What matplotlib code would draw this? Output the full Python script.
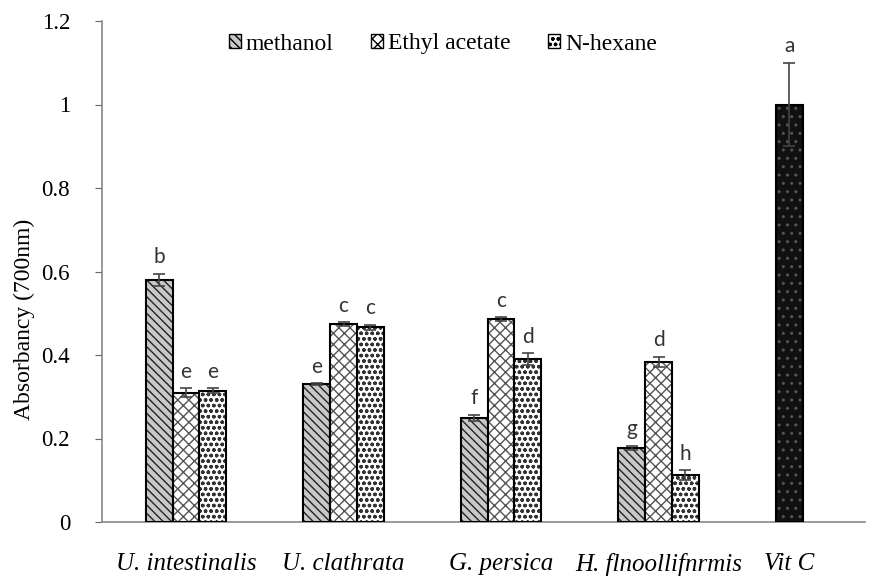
import matplotlib
matplotlib.use("Agg")
import matplotlib.pyplot as plt
from matplotlib.patches import Patch
import numpy as np

categories = ["U. intestinalis", "U. clathrata", "G. persica", "H. flnoollifnrmis", "Vit C"]
series = ["methanol", "Ethyl acetate", "N-hexane"]
methanol = [0.58, 0.33, 0.25, 0.178]
methanol_err = [0.015, 0.003, 0.007, 0.005]
ethyl = [0.31, 0.474, 0.486, 0.384]
ethyl_err = [0.01, 0.005, 0.005, 0.012]
hexane = [0.314, 0.466, 0.39, 0.112]
hexane_err = [0.006, 0.007, 0.015, 0.012]
vitc = 1.0
vitc_err = 0.1
letters_m = ["b", "e", "f", "g"]
letters_e = ["e", "c", "c", "d"]
letters_h = ["e", "c", "d", "h"]
letter_v = "a"

plt.rcParams['hatch.linewidth'] = 1.0
fig = plt.figure(figsize=(8.83, 5.76), dpi=100)
ax = fig.add_axes([102/883, 54/576, 763/883, 501/576])

pos = np.array([0, 1, 2, 3, 3.83])
w = 0.17
styles = [
    dict(face="#c8c8c8", hatch="\\\\\\\\", hc="#222222"),
    dict(face="white", hatch="xxx", hc="#555555"),
    dict(face="white", hatch="ooo", hc="#333333"),
]

def draw(x, vals, errs, st, lets):
    plt.rcParams['hatch.color'] = st["hc"]
    ax.bar(x, vals, w, color=st["face"], edgecolor=st["hc"], hatch=st["hatch"], linewidth=0, zorder=2)
    ax.bar(x, vals, w, fill=False, edgecolor="black", linewidth=1.5, zorder=3)
    ax.errorbar(x, vals, yerr=errs, fmt="none", ecolor="#444444", capsize=4, elinewidth=1.2, capthick=1.2, zorder=4)
    for xi, v, e, l in zip(x, vals, errs, lets):
        ax.text(xi, v + e + 0.015, l, ha="center", va="bottom", fontsize=15, color="#333333", family="Lato")

g = pos[:4]
draw(g - w, methanol, methanol_err, styles[0], letters_m)
draw(g, ethyl, ethyl_err, styles[1], letters_e)
draw(g + w, hexane, hexane_err, styles[2], letters_h)
draw(pos[4:5], [vitc], [vitc_err], dict(face="#111111", hatch="..", hc="#555555"), [letter_v])

ax.set_ylim(0, 1.2)
ax.set_xlim(-0.533, 4.31)
ax.set_yticks([0, 0.2, 0.4, 0.6, 0.8, 1.0, 1.2])
ax.set_yticklabels(["0", "0.2", "0.4", "0.6", "0.8", "1", "1.2"], family="Liberation Serif", fontsize=16.5)
ax.set_xticks(pos)
ax.set_xticklabels(categories, family="Liberation Serif", style="italic", fontsize=18)
ax.tick_params(axis="x", length=0, pad=22)
ax.tick_params(axis="y", length=5, color="#666666", pad=18)
for s in ["top", "right"]:
    ax.spines[s].set_visible(False)
for s in ["left", "bottom"]:
    ax.spines[s].set_color("#888888")
    ax.spines[s].set_linewidth(1.2)
fig.text(24/883, 1 - 319/576, "Absorbancy (700nm)", rotation=90, ha="center", va="center",
         family="Liberation Serif", fontsize=17)

handles = []
for st, name in zip(styles, series):
    plt.rcParams['hatch.color'] = st["hc"]
    handles.append(Patch(facecolor=st["face"], edgecolor="black", hatch=st["hatch"], label=name))
leg = fig.legend(handles=handles, loc="center", bbox_to_anchor=(443/883, 1 - 44/576), ncol=3, frameon=False,
                 prop=dict(family="Liberation Serif", size=17), handlelength=0.5, handleheight=0.5,
                 handletextpad=0.2, columnspacing=1.6)

fig.savefig("out.png", dpi=100)
